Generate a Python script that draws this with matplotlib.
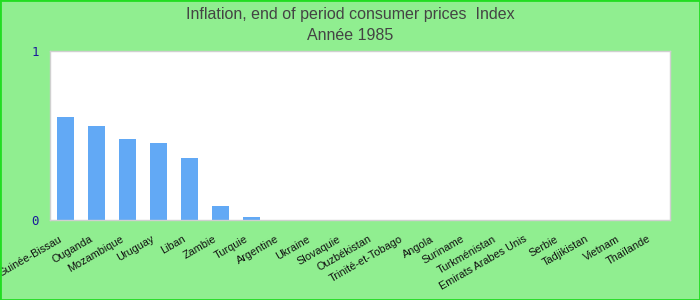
import matplotlib
matplotlib.use("Agg")
import matplotlib.pyplot as plt
from matplotlib.patches import Rectangle
from matplotlib.transforms import ScaledTranslation

categories = ["Guinée-Bissau", "Ouganda", "Mozambique", "Uruguay", "Liban", "Zambie",
              "Turquie", "Argentine", "Ukraine", "Slovaquie", "Ouzbékistan",
              "Trinité-et-Tobago", "Angola", "Suriname", "Turkménistan",
              "Emirats Arabes Unis", "Serbie", "Tadjikistan", "Vietnam", "Thaïlande"]
values = [0.611, 0.557, 0.480, 0.456, 0.367, 0.083, 0.018, 0, 0, 0, 0, 0, 0, 0, 0, 0, 0, 0, 0, 0]
yticks = [0, 1]

fig = plt.figure(figsize=(7, 3), dpi=100, facecolor="#90EE90")
ax = fig.add_axes([50/700, 1-220/300, 620/700, 169/300])
ax.set_facecolor("white")
x = range(len(categories))
ax.bar(x, values, width=0.55, color="#62A9F5")
ax.set_xlim(-0.5, len(categories)-0.5)
ax.set_ylim(0, 1)
ax.set_yticks(yticks)
ax.set_yticklabels([str(t) for t in yticks], family="DejaVu Sans Mono", color="#1a1a9a", fontsize=9)
ax.set_xticks(list(x))
ax.set_xticklabels(categories, rotation=30, ha="right", va="baseline", rotation_mode="anchor",
                   family="Liberation Sans", fontsize=7.8, color="#111111")
ax.tick_params(axis="y", length=0, pad=8)
ax.tick_params(axis="x", length=0, pad=15)
shift = ScaledTranslation(-3/100, 0, fig.dpi_scale_trans)
for lab in ax.get_xticklabels():
    lab.set_transform(lab.get_transform() + shift)
for s in ax.spines.values():
    s.set_color("#d0d0d0")
    s.set_linewidth(1)

fig.text(0.5, 1-14/300, "Inflation, end of period consumer prices  Index", ha="center", va="center",
         family="Liberation Sans", fontsize=11.5, color="#444444")
fig.text(0.5, 1-36/300, "Année 1985", ha="center", va="center",
         family="Liberation Sans", fontsize=11.5, color="#444444")

fig.patches.append(Rectangle((0, 0), 1, 1, transform=fig.transFigure, fill=False,
                             edgecolor="#22dd22", linewidth=2, zorder=10))
fig.savefig("out.png", dpi=100, facecolor=fig.get_facecolor())
